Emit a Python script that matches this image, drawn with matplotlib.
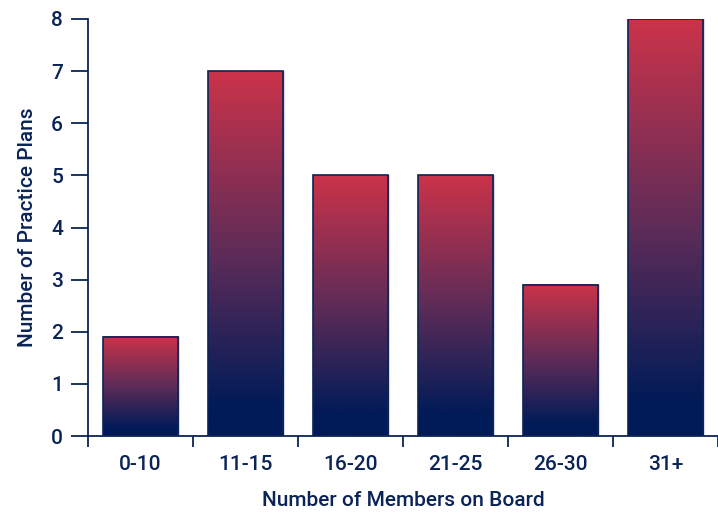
import numpy as np
import matplotlib
matplotlib.use('Agg')
import matplotlib.pyplot as plt
from matplotlib.colors import LinearSegmentedColormap

categories = ["0-10", "11-15", "16-20", "21-25", "26-30", "31+"]
plans = [1.9, 7, 5, 5, 2.9, 8]
yticks = [0, 1, 2, 3, 4, 5, 6, 7, 8]

NAVY = "#0b2457"
plt.rcParams['font.family'] = ['Roboto', 'DejaVu Sans']
plt.rcParams['font.weight'] = 'medium'

cmap = LinearSegmentedColormap.from_list(
    "bar_grad", [(0, "#001b57"), (0.08, "#001b57"), (0.5, "#5e2c58"), (1, "#cb334a")])

fig = plt.figure(figsize=(7.18, 5.19), dpi=100)
ax = fig.add_axes([88/718, 83/519, 630/718, 417/519])

x = np.arange(len(categories))
width = 0.72
grad = np.linspace(0, 1, 256).reshape(-1, 1)
for xi, h in zip(x, plans):
    ax.imshow(grad, cmap=cmap, origin='lower', aspect='auto',
              extent=[xi - width/2, xi + width/2, 0, h], zorder=2)
    ax.plot([xi + width/2 + 0.01] * 2, [0, h], color="#d3d9e7", lw=0.8, zorder=1)
bars = ax.bar(x, plans, width=width, facecolor='none', edgecolor=NAVY,
              linewidth=1.2, zorder=3)

ax.set_xlim(-0.5, len(categories) - 0.5)
ax.set_ylim(0, 8)
ax.set_yticks(yticks)
ax.set_xticks(x)
ax.set_xticklabels(categories)
ax.set_xticks(np.arange(len(categories) + 1) - 0.5, minor=True)

for s in ['top', 'right']:
    ax.spines[s].set_visible(False)
for s in ['left', 'bottom']:
    ax.spines[s].set_color(NAVY)
    ax.spines[s].set_linewidth(1.3)

ax.tick_params(axis='y', direction='out', length=12, width=1.3, color=NAVY,
               labelcolor=NAVY, labelsize=15, pad=6)
ax.tick_params(axis='x', which='major', length=0, labelcolor=NAVY,
               labelsize=15, pad=14)
ax.tick_params(axis='x', which='minor', direction='out', length=8, width=1.3,
               color=NAVY)

ax.set_xlabel("Number of Members on Board", color=NAVY, fontsize=15, labelpad=12,
              fontweight='medium')
ax.set_ylabel("Number of Practice Plans", color=NAVY, fontsize=15, labelpad=10,
              fontweight='medium')

fig.savefig("out.png", dpi=100)
